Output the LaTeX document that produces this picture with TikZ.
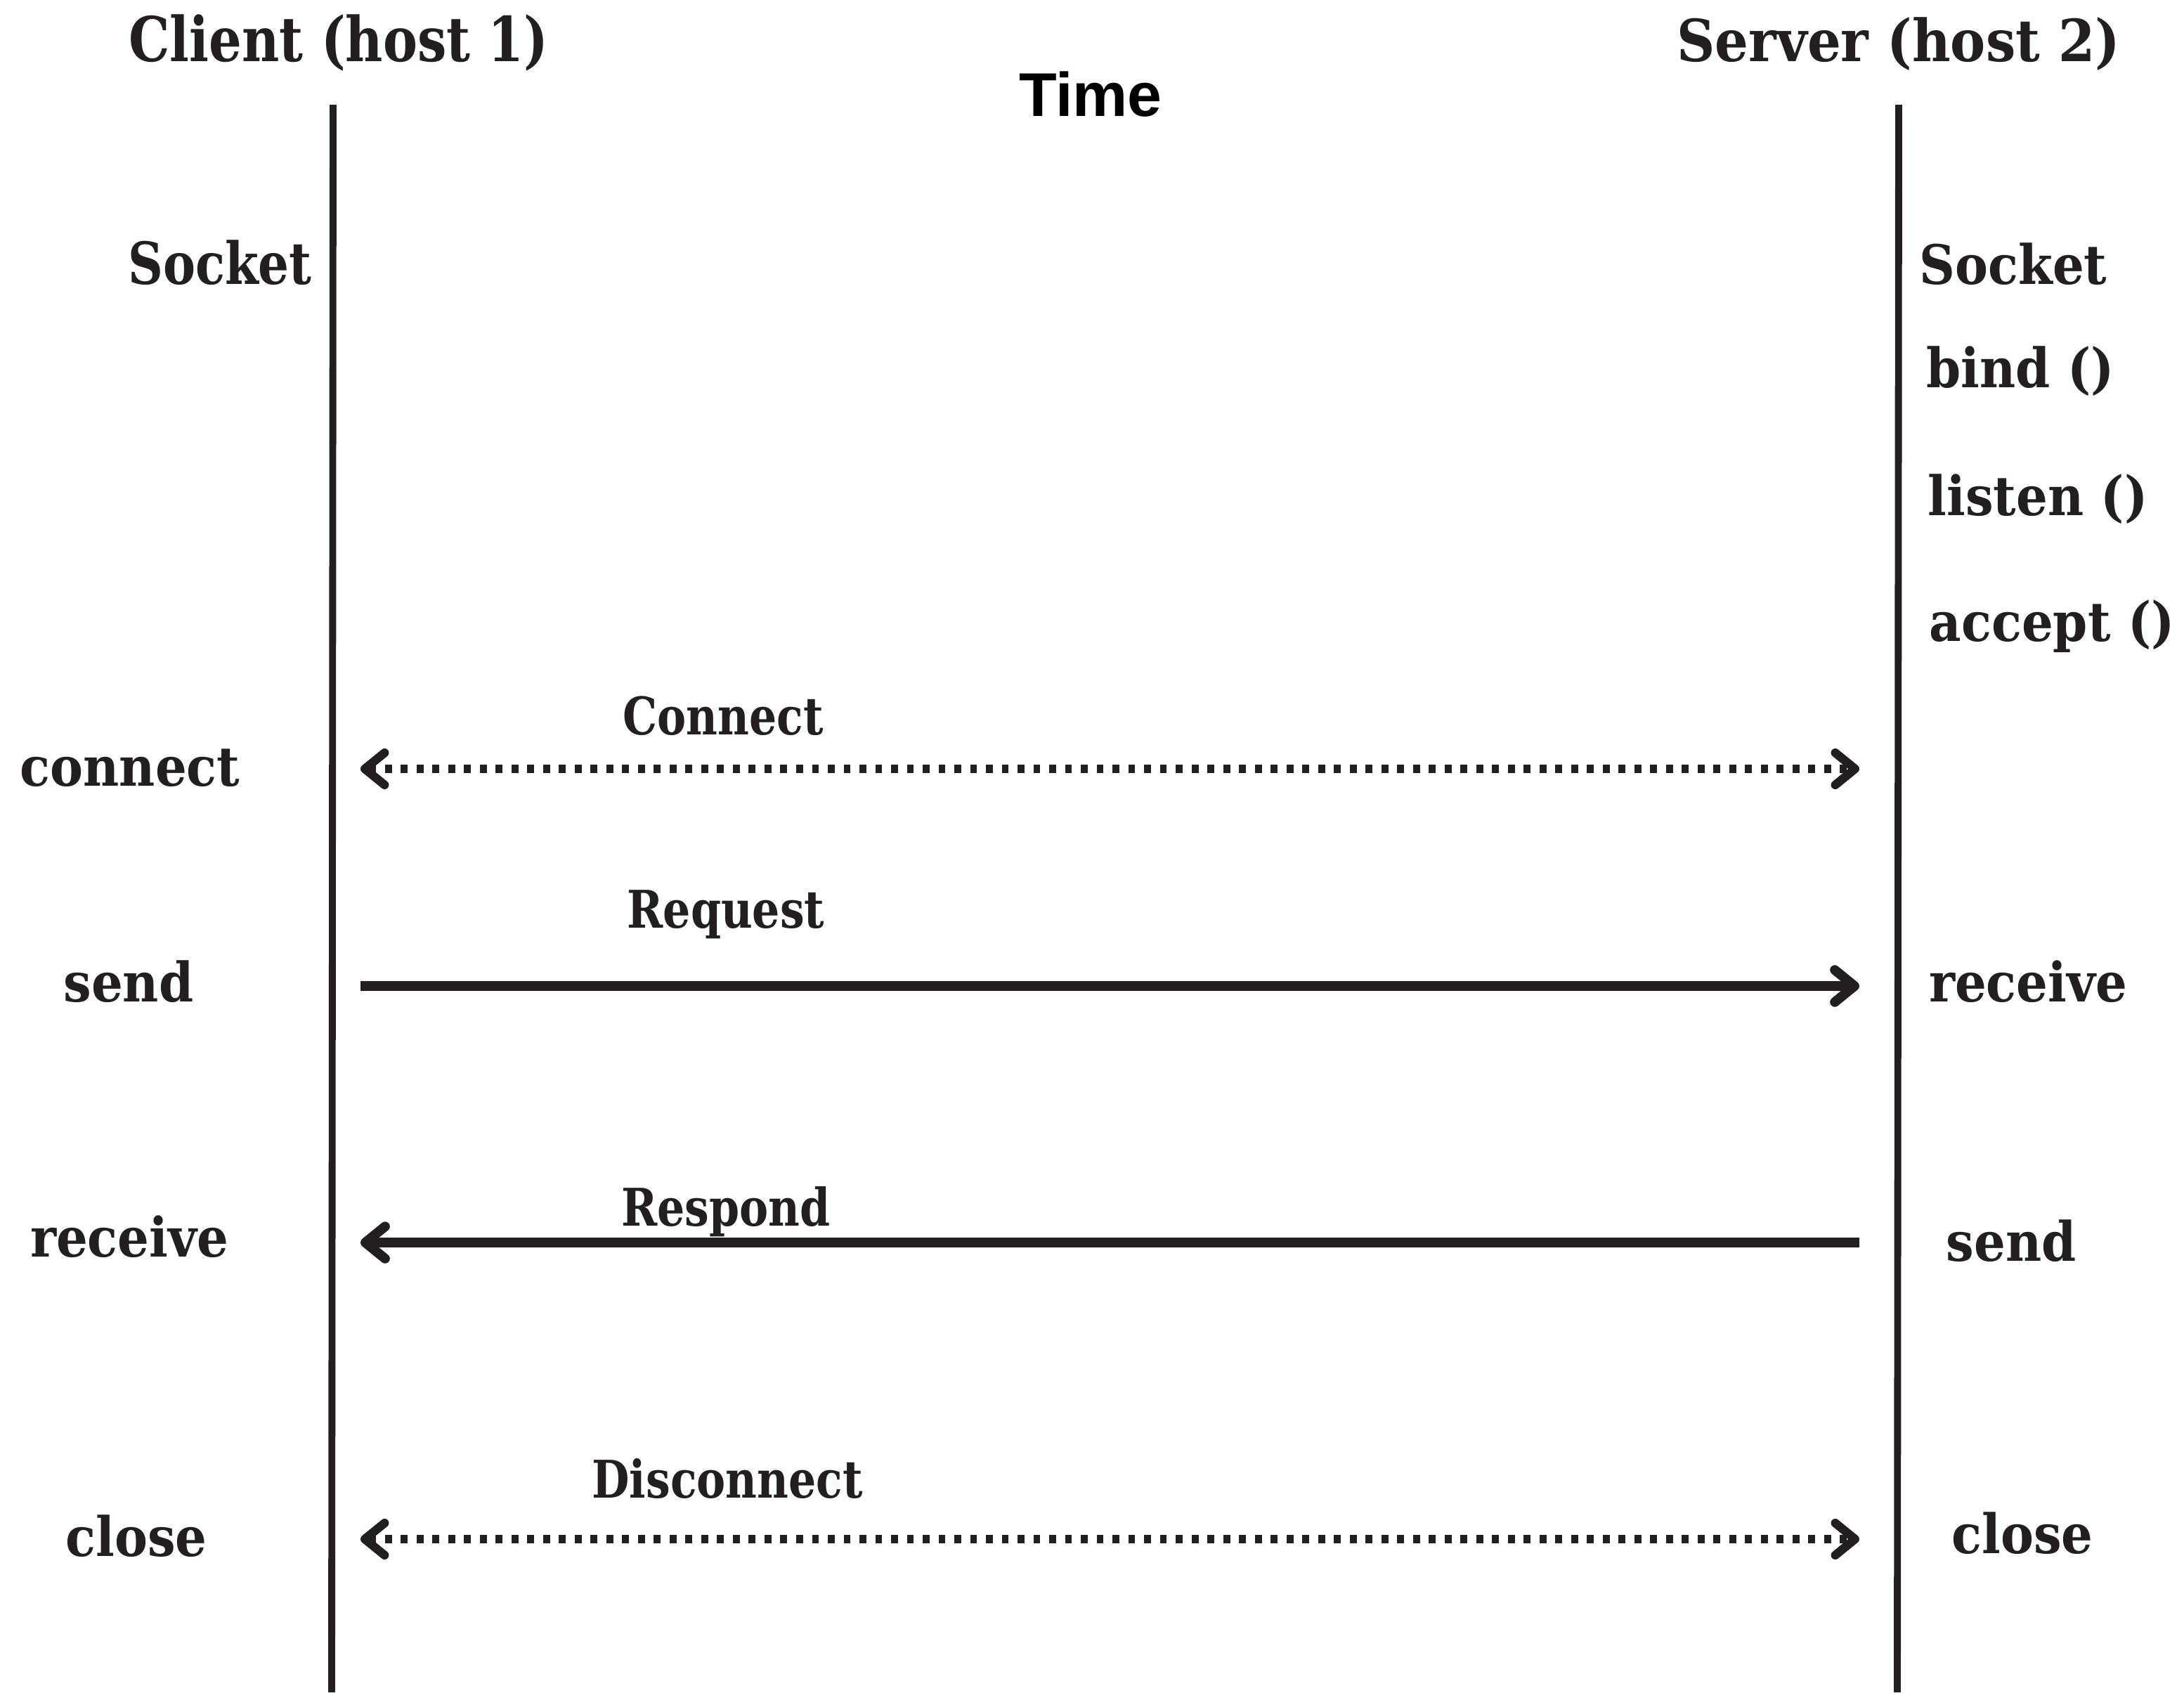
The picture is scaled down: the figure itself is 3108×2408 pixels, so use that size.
\documentclass[tikz,border=0pt]{standalone}
\usepackage{fontspec}
\setmainfont{DejaVu Serif}
\newfontfamily\wideserif[FakeStretch=0.91]{DejaVu Serif}
\newfontfamily\narrowserif[FakeStretch=0.835]{DejaVu Serif}
\newfontfamily\timefont{Liberation Sans}
\usetikzlibrary{arrows.meta}
\definecolor{ink}{RGB}{35,31,32}

\begin{document}
\begin{tikzpicture}[x=0.01cm,y=-0.01cm,
  lbl/.style={font=\wideserif\bfseries\fontsize{22}{26}\selectfont, text=ink, inner sep=0pt, anchor=base},
  lblw/.style={lbl, anchor=base west},
  nlbl/.style={lbl, font=\narrowserif\bfseries\fontsize{21}{25}\selectfont},
  lifeline/.style={line width=2.8pt, draw=ink},
  barb/.tip={Straight Barb[length=8pt,width=13pt,line width=0pt 1,round]},
  msg/.style={draw=ink, line width=3.9pt, -barb},
  dotmsg/.style={draw=ink, line width=3.5pt, dash pattern=on 2.8pt off 3.6pt, barb-barb}
]
\useasboundingbox (0,0) rectangle (3108,2408);

% headings
\node[lbl, font=\narrowserif\bfseries\fontsize{25}{29}\selectfont] (client) at (482,87) {Client (host 1)};
\node[lbl, font=\wideserif\bfseries\fontsize{23.5}{28}\selectfont] (server) at (2702,87) {Server (host 2)};
\node[inner sep=0pt, anchor=base, font=\timefont\bfseries\fontsize{25}{29}\selectfont] (time) at (1552,165) {Time};

% lifelines
\coordinate (ltop) at (474,149);
\coordinate (lbot) at (472,2408);
\coordinate (rtop) at (2702,149);
\coordinate (rbot) at (2700,2408);
\draw[lifeline] (ltop) -- (lbot);
\draw[lifeline] (rtop) -- (rbot);

% client side calls
\node[lbl, font=\narrowserif\bfseries\fontsize{23.5}{28}\selectfont] (csock) at (313,404) {Socket};
\node[lbl] (cconn) at (185,1118) {connect};
\node[lbl] (csend) at (183,1425) {send};
\node[lbl] (crecv) at (184,1788) {receive};
\node[lbl] (cclose) at (194,2214) {close};

% server side calls
\node[lblw] (ssock) at (2731,404) {Socket};
\node[lblw] (sbind) at (2741,551) {bind ()};
\node[lblw] (slisten) at (2743,733) {listen ()};
\node[lblw] (saccept) at (2745,912) {accept ()};
\node[lbl] (srecv) at (2886,1425) {receive};
\node[lbl] (ssend) at (2862,1794) {send};
\node[lbl] (sclose) at (2878,2210) {close};

% message labels
\node[nlbl] (mconn) at (1029,1045) {Connect};
\node[nlbl] (mreq) at (1033,1320) {Request};
\node[nlbl] (mresp) at (1033,1744) {Respond};
\node[nlbl] (mdisc) at (1035,2131) {Disconnect};

% message end points
\coordinate (connL) at (513,1094);
\coordinate (connR) at (2646,1094);
\coordinate (reqL) at (513,1403);
\coordinate (reqR) at (2646,1403);
\coordinate (respL) at (513,1768);
\coordinate (respR) at (2646,1768);
\coordinate (discL) at (513,2190);
\coordinate (discR) at (2646,2190);

% messages
\draw[dotmsg] (connL) -- (connR);
\draw[msg] (reqL) -- (reqR);
\draw[msg] (respR) -- (respL);
\draw[dotmsg] (discL) -- (discR);
\end{tikzpicture}
\end{document}
